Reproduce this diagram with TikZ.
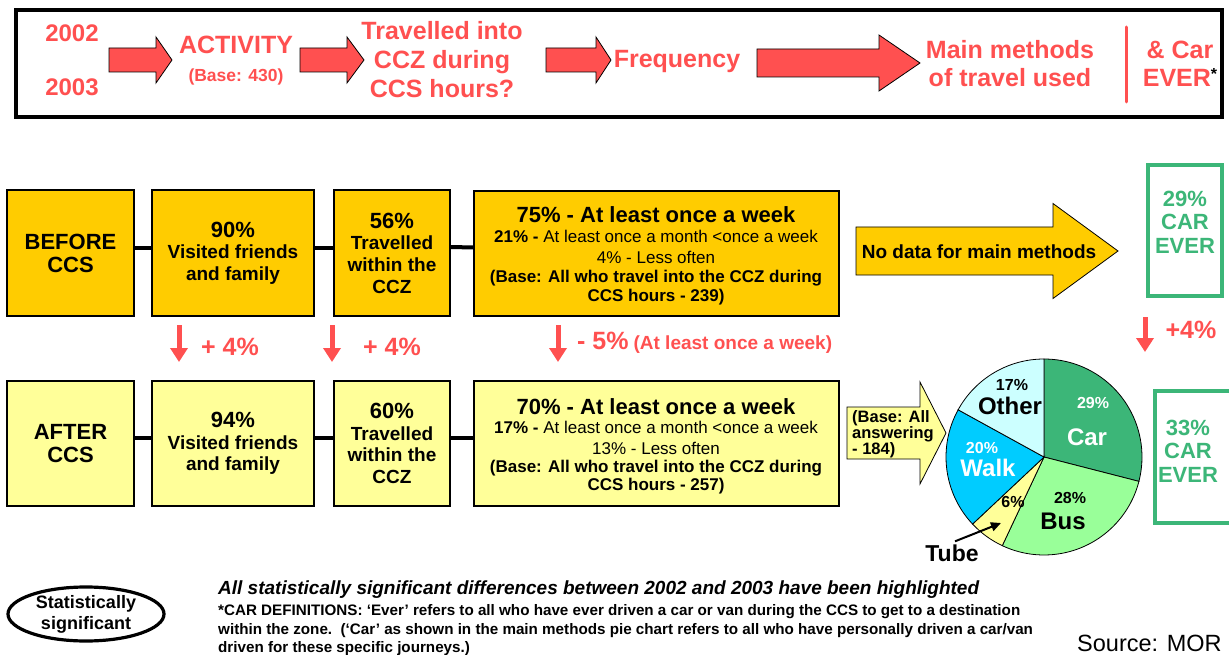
\documentclass[tikz,border=0pt]{standalone}
\usepackage{fontspec}
\setmainfont{Liberation Sans}
\usetikzlibrary{arrows.meta,shapes.geometric}

\definecolor{hired}{RGB}{255,80,80}
\definecolor{gold}{RGB}{255,204,0}
\definecolor{paleyellow}{RGB}{255,255,153}
\definecolor{cargreen}{RGB}{60,182,120}
\definecolor{busgreen}{RGB}{153,255,153}
\definecolor{walkblue}{RGB}{0,204,255}
\definecolor{othercyan}{RGB}{204,255,255}

\newcommand\fsz[2]{\fontsize{#1}{#2}\selectfont}
% block arrow: #1 style, #2 body start x, #3 head start x, #4 tip x, #5 centre y, #6 body half height, #7 head half height
\newcommand\blockarrow[7]{%
  \filldraw[#1] (#2,#5-#6) -- (#3,#5-#6) -- (#3,#5-#7) -- (#4,#5)
    -- (#3,#5+#7) -- (#3,#5+#6) -- (#2,#5+#6) -- cycle;}

\begin{document}
\begin{tikzpicture}[x=1pt,y=-1pt,
  redtxt/.style={text=hired, font=\bfseries, inner sep=0pt, align=center},
  boxbefore/.style={draw=black, line width=1.2pt, fill=gold, inner sep=0pt, align=center},
  boxafter/.style={boxbefore, fill=paleyellow},
  freqline/.style={anchor=base, inner sep=0pt},
  link/.style={line width=4pt},
  downarrow/.style={draw=hired, line width=5pt, -{Triangle[length=14pt,width=17pt]}},
  redblock/.style={draw=black, line width=0.8pt, fill=hired},
  goldblock/.style={draw=black, line width=0.8pt, fill=gold},
  paleblock/.style={draw=black, line width=0.8pt, fill=paleyellow},
  everbox/.style={draw=cargreen, line width=4pt, fill=white},
  evertxt/.style={text=cargreen, font=\bfseries\fsz{22}{23.5}, align=center, inner sep=0pt},
  slice/.style={draw=black, line width=0.8pt},
  pielbl/.style={inner sep=0pt, font=\bfseries},
  defline/.style={anchor=base west, inner sep=0pt, font=\bfseries\fsz{15.2}{17}},
]
\useasboundingbox (0,0) rectangle (1229,655);
\fill[white] (0,0) rectangle (1229,655);

% ---------- heading banner ----------
\draw[line width=3.5pt] (16,10) rectangle (1222,117);
\blockarrow{redblock}{109}{156}{172}{60}{12}{23}
\blockarrow{redblock}{300}{347}{364}{60}{12}{23}
\blockarrow{redblock}{546}{596}{611}{60}{12}{23}
\blockarrow{redblock}{757}{879}{920}{63}{14}{28}
\node[redtxt, font=\bfseries\fsz{24}{28}] (y02) at (72,33) {2002};
\node[redtxt, font=\bfseries\fsz{24}{28}] (y03) at (72,87) {2003};
\node[redtxt, font=\bfseries\fsz{25}{28}] (act) at (236,45) {ACTIVITY};
\node[redtxt, font=\bfseries\fsz{17.5}{20}] (actbase) at (236,77) {(Base: 430)};
\node[redtxt, font=\bfseries\fsz{25}{29}] (ccz) at (442,60) {Travelled into\\CCZ during\\CCS hours?};
\node[redtxt, font=\bfseries\fsz{25}{28}] (freq) at (677,61) {Frequency};
\node[redtxt, font=\bfseries\fsz{25}{28}] (methods) at (1010,64) {Main methods\\of travel used};
\draw[hired, line width=3pt, line cap=round] (1126,27) -- (1126,102);
\node[redtxt, font=\bfseries\fsz{25}{28}] (carever) at (1180,64)
  {\& Car\\EVER\textcolor{black}{\raisebox{0.3em}{\fsz{16}{16}*}}};

% ---------- before row ----------
\node[boxbefore, minimum width=127pt, minimum height=126pt, font=\bfseries\fsz{22}{23}] (bA) at (70.5,253) {BEFORE\\CCS};
\node[boxbefore, minimum width=162pt, minimum height=126pt, font=\bfseries\fsz{19}{21.5}] (bB) at (233,253)
  {{\fsz{22}{21.5}90\%}\\Visited friends\\and family};
\node[boxbefore, minimum width=116pt, minimum height=126pt, font=\bfseries\fsz{19}{21.7}] (bC) at (392,253)
  {{\fsz{22}{21.7}56\%}\\Travelled\\within the\\CCZ};
\node[boxbefore, minimum width=365pt, minimum height=125pt] (bD) at (656.5,253.5) {};
\node[freqline, font=\bfseries\fsz{22}{24}] (bD1) at (656,223) {75\% - At least once a week};
\node[freqline, font=\fsz{17}{19}] (bD2) at (656,243) {\textbf{21\% -} At least once a month <once a week};
\node[freqline, font=\fsz{17}{19}] (bD3) at (656,263) {4\% - Less often};
\node[freqline, font=\bfseries\fsz{17}{19}] (bD4) at (656,282) {(Base: All who travel into the CCZ during};
\node[freqline, font=\bfseries\fsz{17}{19}] (bD5) at (656,301) {CCS hours - 239)};
\draw[link] ([yshift=5pt]bA.east) -- ([yshift=5pt]bB.west);
\draw[link] ([yshift=5pt]bB.east) -- ([yshift=5pt]bC.west);
\draw[link] ([yshift=6pt]bC.east) -- ([yshift=6pt]bD.west);

% ---------- after row ----------
\node[boxafter, minimum width=127pt, minimum height=125pt, font=\bfseries\fsz{22}{23}] (aA) at (70.5,443.5) {AFTER\\CCS};
\node[boxafter, minimum width=162pt, minimum height=125pt, font=\bfseries\fsz{19}{21.5}] (aB) at (233,443.5)
  {{\fsz{22}{21.5}94\%}\\Visited friends\\and family};
\node[boxafter, minimum width=116pt, minimum height=125pt, font=\bfseries\fsz{19}{21.7}] (aC) at (392,443.5)
  {{\fsz{22}{21.7}60\%}\\Travelled\\within the\\CCZ};
\node[boxafter, minimum width=365pt, minimum height=125pt] (aD) at (656.5,443.5) {};
\node[freqline, font=\bfseries\fsz{22}{24}] (aD1) at (656,414) {70\% - At least once a week};
\node[freqline, font=\fsz{17}{19}] (aD2) at (656,433) {\textbf{17\% -} At least once a month <once a week};
\node[freqline, font=\fsz{17}{19}] (aD3) at (656,454) {13\% - Less often};
\node[freqline, font=\bfseries\fsz{17}{19}] (aD4) at (656,472) {(Base: All who travel into the CCZ during};
\node[freqline, font=\bfseries\fsz{17}{19}] (aD5) at (656,490) {CCS hours - 257)};
\draw[link] ([yshift=5.5pt]aA.east) -- ([yshift=5.5pt]aB.west);
\draw[link] ([yshift=5.5pt]aB.east) -- ([yshift=5.5pt]aC.west);
\draw[link] ([yshift=5.5pt]aC.east) -- ([yshift=5.5pt]aD.west);

% ---------- changes between the rows ----------
\coordinate (dBt) at (179,325); \coordinate (dBb) at (179,362);
\coordinate (dCt) at (332,325); \coordinate (dCb) at (332,362);
\coordinate (dDt) at (558,325); \coordinate (dDb) at (558,362);
\coordinate (dEt) at (1145,317); \coordinate (dEb) at (1145,352);
\draw[downarrow] (dBt) -- (dBb);
\draw[downarrow] (dCt) -- (dCb);
\draw[downarrow] (dDt) -- (dDb);
\draw[downarrow] (dEt) -- (dEb);
\node[redtxt, font=\bfseries\fsz{25}{27}] (chB) at (230,347) {+ 4\%};
\node[redtxt, font=\bfseries\fsz{25}{27}] (chC) at (392,347) {+ 4\%};
\node[redtxt, anchor=west, font=\bfseries] (chD) at (577,343) {{\fsz{25}{27}- 5\%}\hspace{5pt}{\fsz{19}{21}(At least once a week)}};
\node[redtxt, font=\bfseries\fsz{25}{27}] (chE) at (1191,330) {+4\%};

% ---------- main methods ----------
\blockarrow{goldblock}{856}{1053}{1118}{251}{24}{47.5}
\node[inner sep=0pt, font=\bfseries\fsz{19}{21}] (nodata) at (979,252) {No data for main methods};

\node[everbox, minimum width=74pt, minimum height=131pt] (ever1) at (1185,230.5) {};
\node[evertxt] (ever1t) at (1185,222) {29\%\\CAR\\EVER};
\node[everbox, minimum width=88pt, minimum height=132pt] (ever2) at (1199,457) {};
\node[evertxt] (ever2t) at (1188,451) {33\%\\CAR\\EVER};

\blockarrow{paleblock}{847}{920}{946}{433}{26}{51}
\node[anchor=west, align=left, inner sep=0pt, font=\bfseries\fsz{16.5}{16}] (pbase) at (852,434) {(Base: All\\answering\\- 184)};

\begin{scope}[shift={(1044,457)}, yscale=-1]
  \filldraw[slice, fill=cargreen] (0,0) -- (90:98) arc[start angle=90, end angle=-14.4, radius=98] -- cycle;
  \filldraw[slice, fill=busgreen] (0,0) -- (-14.4:98) arc[start angle=-14.4, end angle=-115.2, radius=98] -- cycle;
  \filldraw[slice, fill=paleyellow] (0,0) -- (-115.2:98) arc[start angle=-115.2, end angle=-136.8, radius=98] -- cycle;
  \filldraw[slice, fill=walkblue] (0,0) -- (-136.8:98) arc[start angle=-136.8, end angle=-208.8, radius=98] -- cycle;
  \filldraw[slice, fill=othercyan] (0,0) -- (-208.8:98) arc[start angle=-208.8, end angle=-270, radius=98] -- cycle;
\end{scope}
\node[pielbl, font=\bfseries\fsz{16}{18}] (p17) at (1012,385) {17\%};
\node[pielbl, font=\bfseries\fsz{24}{26}] (pother) at (1010,406) {Other};
\node[pielbl, text=white, font=\bfseries\fsz{16}{18}] (p29) at (1093,403) {29\%};
\node[pielbl, text=white, font=\bfseries\fsz{24}{26}] (pcar) at (1087,437) {Car};
\node[pielbl, text=white, font=\bfseries\fsz{16}{18}] (p20) at (982,448) {20\%};
\node[pielbl, text=white, font=\bfseries\fsz{24}{26}] (pwalk) at (988,468) {Walk};
\node[pielbl, font=\bfseries\fsz{16}{18}] (p6) at (1013,502) {6\%};
\node[pielbl, font=\bfseries\fsz{16}{18}] (p28) at (1070,498) {28\%};
\node[pielbl, font=\bfseries\fsz{24}{26}] (pbus) at (1063,521) {Bus};
\node[pielbl, font=\bfseries\fsz{23}{26}] (ptube) at (952,553) {Tube};
\coordinate (tubetip) at (1001,523);
\draw[line width=2pt, -{Triangle[length=10pt,width=9pt]}] ([xshift=3pt,yshift=3pt]ptube.north) -- (tubetip);

% ---------- notes ----------
\node[draw, ellipse, line width=3.2pt, minimum width=156pt, minimum height=54pt, align=center,
      inner sep=0pt, font=\bfseries\fsz{18}{21}] (sig) at (86,614) {Statistically\\significant};
\node[anchor=base west, inner sep=0pt, font=\bfseries\itshape\fsz{19}{21}] (hl) at (218,594)
  {All statistically significant differences between 2002 and 2003 have been highlighted};
\node[defline] (def1) at (218,615)
  {*CAR DEFINITIONS: ‘Ever’ refers to all who have ever driven a car or van during the CCS to get to a destination};
\node[defline] (def2) at (218,634)
  {within the zone.\ \ (‘Car’ as shown in the main methods pie chart refers to all who have personally driven a car/van};
\node[defline] (def3) at (218,652)
  {driven for these specific journeys.)};
\node[anchor=base west, inner sep=0pt, font=\fsz{23.5}{26}] (src) at (1077,651) {Source: MOR};
\end{tikzpicture}
\end{document}
